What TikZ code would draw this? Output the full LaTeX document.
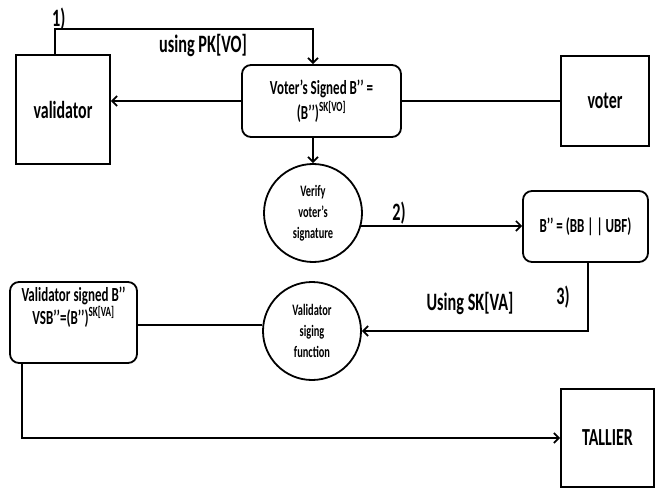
\documentclass[tikz,border=0pt]{standalone}
\usepackage{fontspec}
\setmainfont{Carlito}[FakeStretch=0.65]
\usetikzlibrary{arrows.meta}

\tikzstyle{entity} = [draw, rectangle, line width=1.8pt, inner sep=0pt, font=\bfseries\fontsize{24.5}{28}\selectfont]
\tikzstyle{message} = [draw, rectangle, rounded corners=9pt, line width=1.8pt, inner sep=0pt, align=center, font=\bfseries\fontsize{20}{25}\selectfont]
\tikzstyle{process} = [draw, circle, line width=1.8pt, minimum size=98pt, inner sep=0pt, align=center, font=\bfseries\fontsize{16}{21}\selectfont]
\tikzstyle{edge} = [draw, line width=1.7pt, -]
\tikzstyle{flow} = [draw, line width=1.7pt, -{Straight Barb[length=5pt,width=10pt,line width=1.7pt]}]
\tikzstyle{step label} = [font=\bfseries\fontsize{25}{28}\selectfont, inner sep=1pt]

\begin{document}
\begin{tikzpicture}[x=1pt, y=-1pt]

    \useasboundingbox (0,0) rectangle (661,497);

    % The parties
    \foreach \pos/\name/\w/\h in {{(63,109.5)/validator/94/109}, {(605,101)/voter/88/90}, {(607.5,438)/TALLIER/93/98}} {
      \node[entity, minimum width=\w pt, minimum height=\h pt] (\name) at \pos {\name};
    }

    % The signed ballots
    \node[message, minimum width=159pt, minimum height=72pt] (signedVO) at (321.5,101)
      {Voter’s Signed B’’ =\\(B’’)\textsuperscript{SK[VO]}};
    \node[message, minimum width=125pt, minimum height=71pt] (ballot) at (585.5,226.5)
      {B’’ = (BB | | UBF)};
    \node[message, minimum width=127pt, minimum height=81pt,
      label={[anchor=north, yshift=-2pt, align=center, font=\bfseries\fontsize{20}{23}\selectfont]north:Validator signed B’’\\VSB’’=(B’’)\textsuperscript{SK[VA]}}] (signedVA) at (73.5,322.5) {};

    % The functions
    \node[process] (verify) at (313,213) {Verify\\voter’s\\signature};
    \node[process] (sign) at (312,331) {Validator\\siging\\function};

    % 1) fetching the ballot with the public key
    \path[flow] ([xshift=-8pt]validator.north) -- ++(0,25pt) -| (signedVO.north -| verify.north);
    \node[step label, anchor=south west] (one) at (51,31) {1)};
    \node[step label] (pk) at (203,45) {using PK[VO]};

    \path[flow] (signedVO.west) -- (signedVO.west -| validator.east);
    \path[edge] (signedVO.east) -- (voter.west);
    \path[flow] (signedVO.south -| verify.north) -- (verify.north);

    % 2) the verified ballot
    \path[flow] (verify.-15) -- (verify.-15 -| ballot.west);
    \node[step label] (two) at (399,213) {2)};

    % 3) signing with the secret key
    \path[flow] ([xshift=2.5pt]ballot.south) |- (sign.east);
    \node[step label] (three) at (563,297) {3)};
    \node[step label] (sk) at (470,303) {Using SK[VA]};

    % The signed ballot goes to the tallier
    \path[edge] (sign.173) -- (sign.173 -| signedVA.east);
    \path[flow] ([xshift=13pt]signedVA.south west) |- (TALLIER.west);

\end{tikzpicture}
\end{document}
